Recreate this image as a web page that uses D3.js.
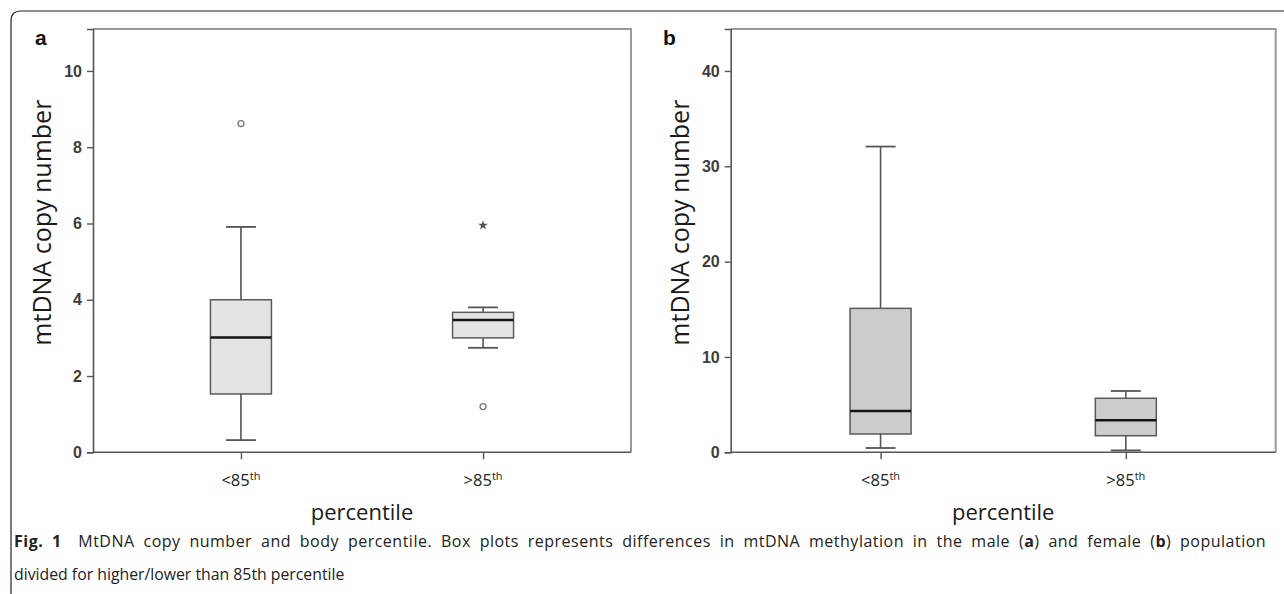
<!DOCTYPE html>
<html><head><meta charset="utf-8">
<script src="https://cdn.jsdelivr.net/npm/d3@7"></script>
<style>
html,body{margin:0;padding:0;background:#fff;}
svg{display:block;}
</style></head>
<body>
<script>
// ---- data ----
const categories = ["<85", ">85"];
// panel a (male)
const aWhiskerLow  = [0.32, 2.74];
const aQ1          = [1.53, 3.00];
const aMedian      = [3.01, 3.47];
const aQ3          = [4.00, 3.67];
const aWhiskerHigh = [5.91, 3.80];
const aOutliers    = [[8.62], [1.20]];
const aExtremes    = [[], [5.95]];
const aTicks       = [0, 2, 4, 6, 8, 10];
// panel b (female)
const bWhiskerLow  = [0.45, 0.20];
const bQ1          = [1.92, 1.74];
const bMedian      = [4.33, 3.36];
const bQ3          = [15.1, 5.67];
const bWhiskerHigh = [32.07, 6.43];
const bOutliers    = [[], []];
const bExtremes    = [[], []];
const bTicks       = [0, 10, 20, 30, 40];

const W = 1284, H = 594;
const svg = d3.select("body").append("svg").attr("width", W).attr("height", H);

// outer frame (top-left bracket with rounded corner)
svg.append("path")
  .attr("d", "M11,594 L11,21 Q11,11 21,11 L1284,11")
  .attr("fill", "none").attr("stroke", "#222").attr("stroke-width", 1.2);

function panel(opts) {
  const {x0, x1, y0, y1, yMax, ticks, lo, q1, med, q3, hi, outl, ext, fill, letter, letterX} = opts;
  const g = svg.append("g");
  const x = d3.scalePoint().domain(categories).range([x0, x1]).padding(0.611);
  const y = d3.scaleLinear().domain([0, yMax]).range([y1, y0]);

  // frame top & right
  g.append("path").attr("d", `M${x0},${y0} L${x1},${y0} L${x1},${y1}`)
    .attr("fill", "none").attr("stroke", "#9a9a9a").attr("stroke-width", 2);

  // y axis
  const ya = g.append("g").attr("transform", `translate(${x0},0)`)
    .call(d3.axisLeft(y).tickValues(ticks).tickSize(6).tickPadding(5).tickFormat(d3.format("d")));
  ya.select(".domain").attr("stroke", "#555").attr("stroke-width", 1.6);
  ya.selectAll(".tick line").attr("stroke", "#555").attr("stroke-width", 1.4);
  ya.selectAll(".tick text").attr("font-family", "'Liberation Sans', Arial, sans-serif")
    .attr("font-size", 16).attr("font-weight", "bold").attr("fill", "#3c3c3c");

  // x axis
  const xa = g.append("g").attr("transform", `translate(0,${y1})`)
    .call(d3.axisBottom(x).tickSize(7).tickSizeOuter(0).tickFormat(""));
  xa.select(".domain").attr("stroke", "#555").attr("stroke-width", 1.6)
    .attr("d", `M${x0},0H${x1}`);
  xa.selectAll(".tick line").attr("stroke", "#555").attr("stroke-width", 1.4);

  // category labels with superscript
  categories.forEach(c => {
    const t = g.append("text").attr("x", x(c)).attr("y", y1 + 34)
      .attr("text-anchor", "middle").attr("font-family", "'Open Sans', sans-serif")
      .attr("font-size", 16.5).attr("fill", "#222");
    t.append("tspan").text(c);
    t.append("tspan").attr("font-size", 11).attr("dy", -6).text("th");
  });

  // axis titles
  g.append("text").attr("x", (x0 + x1) / 2).attr("y", y1 + 68)
    .attr("text-anchor", "middle").attr("font-family", "'Open Sans', sans-serif")
    .attr("font-size", 22).attr("fill", "#1a1a1a").text("percentile");
  g.append("text").attr("transform", `translate(${x0 - 42},${(y0 + y1) / 2 - 18}) rotate(-90)`)
    .attr("text-anchor", "middle").attr("font-family", "'Open Sans', sans-serif")
    .attr("font-size", 25).attr("fill", "#1a1a1a").text("mtDNA copy number");

  // panel letter
  g.append("text").attr("x", letterX).attr("y", 45)
    .attr("font-family", "'Liberation Sans', Arial, sans-serif").attr("font-weight", "bold")
    .attr("font-size", 21).attr("fill", "#111").text(letter);

  const bw = 61, cw = 30;
  categories.forEach((c, i) => {
    const cx = x(c);
    // whiskers
    g.append("line").attr("x1", cx).attr("x2", cx).attr("y1", y(hi[i])).attr("y2", y(q3[i]))
      .attr("stroke", "#555").attr("stroke-width", 1.6);
    g.append("line").attr("x1", cx).attr("x2", cx).attr("y1", y(q1[i])).attr("y2", y(lo[i]))
      .attr("stroke", "#555").attr("stroke-width", 1.6);
    [hi[i], lo[i]].forEach(v => g.append("line").attr("x1", cx - cw / 2).attr("x2", cx + cw / 2)
      .attr("y1", y(v)).attr("y2", y(v)).attr("stroke", "#555").attr("stroke-width", 1.8));
    // box
    g.append("rect").attr("x", cx - bw / 2).attr("width", bw)
      .attr("y", y(q3[i])).attr("height", y(q1[i]) - y(q3[i]))
      .attr("fill", fill).attr("stroke", "#5a5a5a").attr("stroke-width", 1.5);
    g.append("line").attr("x1", cx - bw / 2).attr("x2", cx + bw / 2)
      .attr("y1", y(med[i])).attr("y2", y(med[i])).attr("stroke", "#151515").attr("stroke-width", 2.4);
    // outliers
    outl[i].forEach(v => g.append("circle").attr("cx", cx).attr("cy", y(v)).attr("r", 3)
      .attr("fill", "#fff").attr("stroke", "#777").attr("stroke-width", 1.3));
    ext[i].forEach(v => g.append("path")
      .attr("d", d3.symbol(d3.symbolStar, 30)())
      .attr("transform", `translate(${cx},${y(v)})`).attr("fill", "#555"));
  });
}

panel({x0: 93, x1: 631, y0: 29, y1: 452.3, yMax: 11.1, ticks: aTicks,
  lo: aWhiskerLow, q1: aQ1, med: aMedian, q3: aQ3, hi: aWhiskerHigh,
  outl: aOutliers, ext: aExtremes, fill: "#e4e4e4", letter: "a", letterX: 35});
panel({x0: 730.7, x1: 1275.7, y0: 29, y1: 452.3, yMax: 44.4, ticks: bTicks,
  lo: bWhiskerLow, q1: bQ1, med: bMedian, q3: bQ3, hi: bWhiskerHigh,
  outl: bOutliers, ext: bExtremes, fill: "#cccccc", letter: "b", letterX: 663});

// caption (first line justified)
const capParts = [
  ["Fig.\u00a01", true],
  ["\u2003MtDNA copy number and body percentile. Box plots represents differences in mtDNA methylation in the male (", false],
  ["a", true], [") and female (", false], ["b", true], [") population", false]
];
const cap = svg.append("text").attr("x", 14).attr("y", 547)
  .attr("font-family", "'Open Sans', sans-serif").attr("font-size", 16).attr("fill", "#222")
  .style("letter-spacing", "0.5px");
capParts.forEach(([t, b]) => cap.append("tspan").attr("font-weight", b ? "bold" : "normal").text(t));
const natural = cap.node().getComputedTextLength();
const nSpaces = capParts.map(p => p[0]).join("").split(" ").length - 1;
cap.style("word-spacing", Math.max(0, (1248 - natural) / nSpaces) + "px");

svg.append("text").attr("x", 14).attr("y", 580)
  .attr("font-family", "'Open Sans', sans-serif").attr("font-size", 15.8).attr("fill", "#222")
  .text("divided for higher/lower than 85th percentile");
</script>
</body></html>
